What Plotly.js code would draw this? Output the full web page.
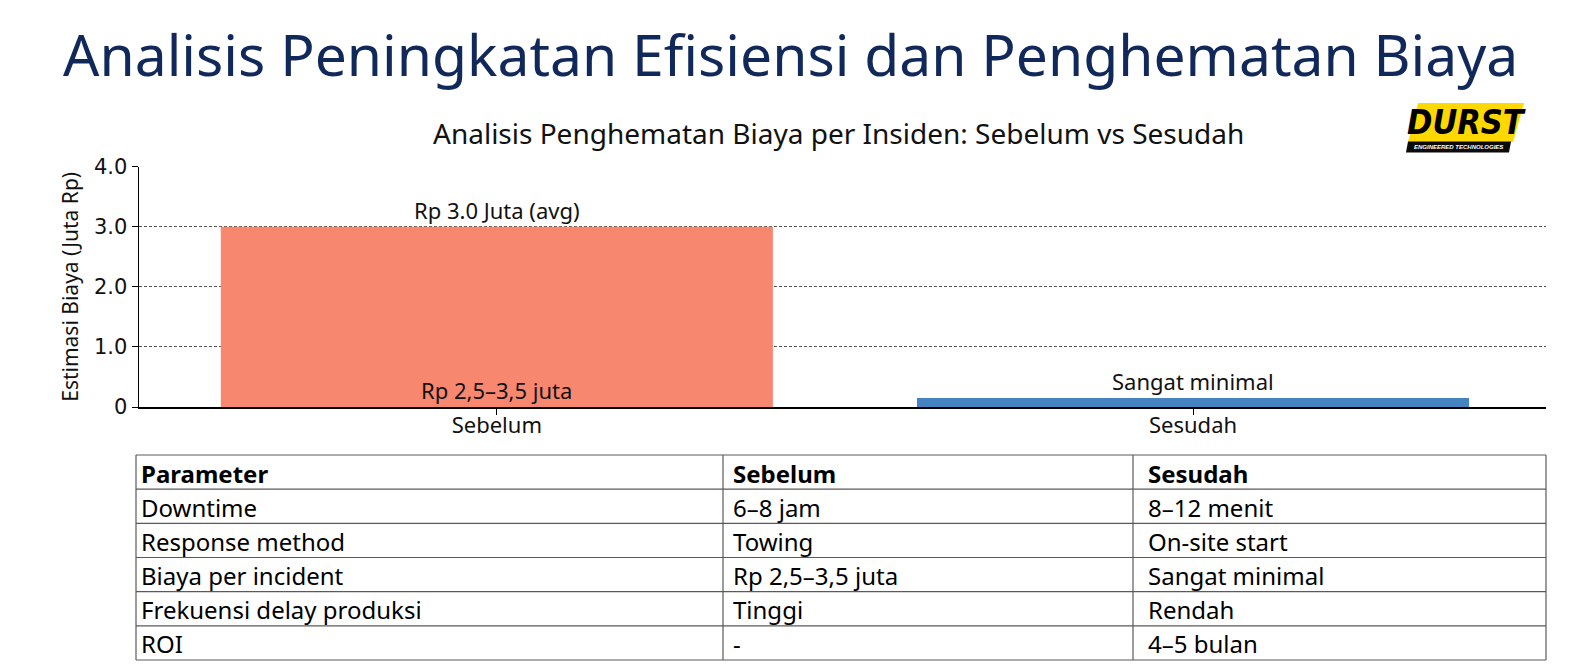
<!DOCTYPE html>
<html>
<head>
<meta charset="utf-8">
<script src="https://cdn.plot.ly/plotly-3.0.1.min.js"></script>
<style>
  html, body { margin: 0; padding: 0; background: #ffffff; }
  #chart { width: 1593px; height: 672px; }
</style>
</head>
<body>
<div id="chart"></div>
<script>
// ---- data ----
const categories = ["Sebelum", "Sesudah"];
const costValues = [3.0, 0.15];
const topLabels = ["Rp 3.0 Juta (avg)", "Sangat minimal"];
const baseLabels = ["Rp 2,5–3,5 juta", ""];
const yTickVals = [0, 1, 2, 3, 4];
const yTickText = ["0", "1.0", "2.0", "3.0", "4.0"];

const tableHeader = ["Parameter", "Sebelum", "Sesudah"];
const colParameter = ["Downtime", "Response method", "Biaya per incident", "Frekuensi delay produksi", "ROI"];
const colSebelum = ["6–8 jam", "Towing", "Rp 2,5–3,5 juta", "Tinggi", "-"];
const colSesudah = ["8–12 menit", "On-site start", "Sangat minimal", "Rendah", "4–5 bulan"];

const mainTitle = "Analisis Peningkatan Efisiensi dan Penghematan Biaya";
const chartTitle = "Analisis Penghematan Biaya per Insiden: Sebelum vs Sesudah";
const yTitle = "Estimasi Biaya (Juta Rp)";

// ---- layout helpers (pixels -> paper) ----
const W = 1593, H = 672;
const px = x => x / W;
const py = y => 1 - y / H;

const barColors = ["#F8876F", "#4584C1"];
const txtFont = "Noto Sans, Open Sans, sans-serif";

const barTrace = {
  type: "bar",
  x: [0, 1],
  y: costValues,
  width: 0.793,
  marker: { color: barColors, line: { width: 0 } },
  hoverinfo: "skip",
  showlegend: false
};

const annotations = [];
const shapes = [];

// bar labels positioned from data
categories.forEach((c, i) => {
  if (topLabels[i]) annotations.push({
    x: i, y: costValues[i], xref: "x", yref: "y",
    text: topLabels[i], showarrow: false, yanchor: "bottom",
    font: { family: txtFont, size: 22, color: "#111111" }
  });
  if (baseLabels[i]) annotations.push({
    x: i, y: 0, xref: "x", yref: "y",
    text: baseLabels[i], showarrow: false, yanchor: "bottom",
    font: { family: txtFont, size: 22, color: "#111111" }
  });
});

// chart title
annotations.push({
  x: px(839), y: py(133), xref: "paper", yref: "paper",
  text: chartTitle, showarrow: false, xanchor: "center", yanchor: "middle",
  font: { family: txtFont, size: 28, color: "#111111" }
});

// ---- table (grid lines + cell texts) ----
const tblTop = 455, tblBottom = 660;
const colEdges = [136, 723, 1133, 1546];
const colTextX = [139, 731, 1146];
const columns = [colParameter, colSebelum, colSesudah];
const nRows = colParameter.length + 1;
const rowH = (tblBottom - tblTop) / nRows;
for (let k = 0; k <= nRows; k++) {
  const y = tblTop + k * rowH;
  shapes.push({ type: "line", xref: "paper", yref: "paper",
    x0: px(colEdges[0]), x1: px(colEdges[3]), y0: py(y), y1: py(y),
    line: { color: "#5a5a5a", width: 1.2 } });
}
colEdges.forEach(x => shapes.push({ type: "line", xref: "paper", yref: "paper",
  x0: px(x), x1: px(x), y0: py(tblTop), y1: py(tblBottom),
  line: { color: "#5a5a5a", width: 1.2 } }));
tableHeader.forEach((h, j) => annotations.push({
  x: px(colTextX[j]), y: py(tblTop + rowH * 0.5 + 1), xref: "paper", yref: "paper",
  text: "<b>" + h + "</b>", showarrow: false, xanchor: "left", yanchor: "middle",
  font: { family: txtFont, size: 24, color: "#000000" }
}));
columns.forEach((col, j) => col.forEach((v, r) => annotations.push({
  x: px(colTextX[j]), y: py(tblTop + rowH * (r + 1.5) + 1), xref: "paper", yref: "paper",
  text: v, showarrow: false, xanchor: "left", yanchor: "middle",
  font: { family: txtFont, size: 24, color: "#000000" }
})));

// ---- logo ----
shapes.push(
  { type: "path", xref: "paper", yref: "paper",
    path: `M ${px(1418)},${py(103)} L ${px(1524)},${py(103)} L ${px(1513)},${py(142)} L ${px(1408)},${py(142)} Z`,
    fillcolor: "#FFD800", line: { width: 0 } },
  { type: "path", xref: "paper", yref: "paper",
    path: `M ${px(1408)},${py(141.5)} L ${px(1511)},${py(141.5)} L ${px(1509)},${py(152.5)} L ${px(1406)},${py(152.5)} Z`,
    fillcolor: "#0a0a0a", line: { width: 0 } }
);
annotations.push({
  x: px(1466), y: py(122), xref: "paper", yref: "paper",
  text: "DURST", showarrow: false, xanchor: "center", yanchor: "middle",
  font: { family: "DejaVu Sans Condensed, Liberation Sans Narrow, sans-serif", size: 34, color: "#000000", weight: "bold", style: "italic" }
});
annotations.push({
  x: px(1458), y: py(147), xref: "paper", yref: "paper",
  text: "ENGINEERED TECHNOLOGIES", showarrow: false, xanchor: "center", yanchor: "middle",
  font: { family: "Liberation Sans, sans-serif", size: 6, color: "#ffffff", weight: "bold", style: "italic" }
});

const layout = {
  width: W, height: H,
  margin: { l: 0, r: 0, t: 0, b: 0 },
  paper_bgcolor: "#ffffff",
  plot_bgcolor: "#ffffff",
  title: {
    text: mainTitle,
    x: px(63), xanchor: "left", xref: "paper",
    y: py(56), yanchor: "middle", yref: "paper",
    font: { family: "Noto Sans, Open Sans, sans-serif", size: 57, color: "#11285A" }
  },
  xaxis: {
    domain: [px(139), px(1546)],
    range: [-0.514, 1.507],
    tickmode: "array", tickvals: [0, 1], ticktext: categories,
    ticks: "outside", ticklen: 6, tickwidth: 1, tickcolor: "#000000",
    ticklabelstandoff: -8,
    showline: true, linecolor: "#000000", linewidth: 1.5,
    showgrid: false, zeroline: false,
    tickfont: { family: txtFont, size: 22, color: "#111111" },
    fixedrange: true
  },
  yaxis: {
    domain: [py(407), py(166.7)],
    range: [0, 4],
    tickmode: "array", tickvals: yTickVals, ticktext: yTickText,
    ticks: "outside", ticklen: 6, tickwidth: 1, tickcolor: "#000000",
    showline: true, linecolor: "#000000", linewidth: 1.5,
    showgrid: true, gridcolor: "#555555", gridwidth: 1, griddash: "3px,2px",
    zeroline: false,
    tickfont: { family: "DejaVu Sans, sans-serif", size: 21, color: "#111111" },
    title: { text: yTitle, standoff: 9, font: { family: txtFont, size: 21, color: "#111111" } },
    fixedrange: true
  },
  annotations: annotations,
  shapes: shapes,
  hovermode: false
};

Plotly.newPlot("chart", [barTrace], layout, { displayModeBar: false, staticPlot: true });
</script>
</body>
</html>
